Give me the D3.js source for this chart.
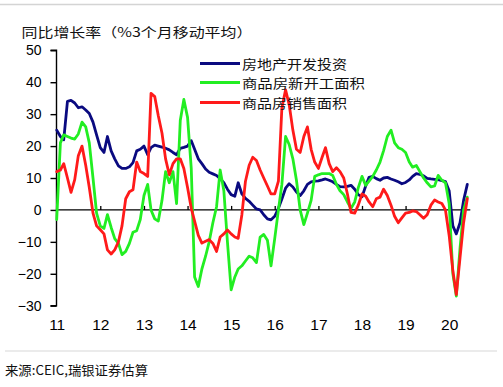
<!DOCTYPE html>
<html>
<head>
<meta charset="utf-8">
<script src="https://cdn.jsdelivr.net/npm/d3@7"></script>
<style>
  html, body { margin: 0; padding: 0; background: #fff; }
  svg { display: block; }
</style>
</head>
<body>
<svg id="chart" width="503" height="387"></svg>
<script>
// ---- data (monthly, Jan 2011 – Jun 2020, 3-month moving average, % yoy) ----
const startMonth = "2011-01";
const endMonth = "2020-06";
const seriesNames = ["房地产开发投资", "商品房新开工面积", "商品房销售面积"];
const seriesColors = ["#0a0a80", "#22ee22", "#ff1a1a"];

const investment = [
  25, 23, 22, 34, 34.3, 33.5, 32, 32.3, 31.3, 30.2, 27.5, 23.5,
  19.5, 18, 23, 18.5, 16, 13.8, 13, 13, 13.5, 14.8, 18.5, 19,
  20, 17.3, 19.5, 20.3, 20, 19.7, 19.3, 18.8, 18, 17.3, 19.3, 19.6,
  20, 21.7, 19, 16, 14.5, 12.8, 11.8, 11.3, 10.8, 9.8, 8.5, 6.5,
  4.8, 4.3, 8.5, 5, 3.6, 2.7, 1.5, 0.3, 0, -1.5, -2.8, -3.1,
  -2, 0.5, 3.4, 6.8, 8.2, 7.2, 5.6, 4.5, 6, 8, 8.8, 9,
  9.1, 9.4, 9.7, 9.3, 8.8, 8, 7.3, 7.2, 7.4, 7.7, 6.5, 4.8,
  4.1, 7.5, 10.2, 10.5, 9.8, 9.3, 10, 10.2, 9.7, 9.3, 8.8, 8.2,
  8.6, 9.4, 10.5, 11.4, 11.1, 10.7, 9.9, 9.7, 9.6, 9.5, 9.2, 8.9,
  6, -5, -7.5, -4, 3, 8
];
const newStarts = [
  -3, 21, 23.5, 23, 22.5, 22.2, 23.8, 27.5, 26, 21, 10, -1,
  -5, -5.8, -1.5, -5.5, -9, -10.5, -14, -13, -10.5, -7, -6.5, -3,
  4.5, 8, 0, -2.8, -3.5, 3, 12, 8.5, 12, 2, 28, 34.6,
  29, 13, -21, -24, -18.5, -14.5, -10, -4, 1, 12.5, 6, -10,
  -25, -21, -18.5, -17.5, -16, -14.5, -15, -16.5, -8.5, -7.7, -9.5, -17.5,
  -9, 0, 8, 23, 20.5, 16, 9.3, 0, -4.6, -1, 3, 10.5,
  11, 11.4, 11.4, 11.4, 10.8, 8, 6, 4.8, 2.5, 0.5, 2.5, 7,
  10.5, 7.7, 9, 10.5, 12.5, 15, 18.6, 23, 25, 21, 19.5, 19,
  18, 15, 13.4, 13.9, 12, 10, 8.5, 7.2, 7.5, 10.8, 9.3, 8.5,
  2, -20, -27, -12, 0, 4
];
const sales = [
  12, 12.5, 14.5, 10, 5.5, 9.5, 17, 20, 14, 7, -1, -5,
  -6.2, -7.5, -12.5, -13.8, -12.5, -10, -5, 3.5, 5.7, 6.3, 15, 12,
  11.4, 10.5, 36.5, 35.5, 29.5, 24, 16, 11, 14.5, 16, 16, 13,
  7, 0.5, -3.5, -8, -10.4, -9.8, -9.3, -10.5, -13, -8.5, -7.5, -6.3,
  -7.5, -8.5, -8.9, -1.5, 9, 14, 16.5, 15.5, 12.5, 10, 7.5, 5,
  5, 9, 32, 37.6, 33, 25, 19, 18, 23, 26, 19, 15,
  13, 16.5, 19.5, 14.5, 12, 13.2, 12, 10, 5, -0.8, -1, 1.5,
  5, 4.3, 2.5, 1, 3.5, 4, 6.5, 4.5, 1.5, -2, -4, -2.5,
  -1, -0.8, -0.3, -0.5, -1.5, -2.6, -1.5, 1.5, 3.1, 2.5, 2, 0,
  -8, -19, -26.5, -15, -4, 3.5
];
const yTicks = [-30, -20, -10, 0, 10, 20, 30, 40, 50];
const title = "同比增长率（%3个月移动平均）";
const source = "来源:CEIC,瑞银证券估算";

// ---- build ----
const parseM = d3.timeParse("%Y-%m");
const months = d3.timeMonth.range(parseM(startMonth), d3.timeMonth.offset(parseM(endMonth), 1));
const allSeries = [investment, newStarts, sales];

const svg = d3.select("#chart");
svg.append("rect").attr("width", 503).attr("height", 387).attr("fill", "#fff");

// frame lines
svg.append("line").attr("x1", 0).attr("x2", 503).attr("y1", 4.5).attr("y2", 4.5)
  .attr("stroke", "#d4d4d4").attr("stroke-width", 1.5);
svg.append("line").attr("x1", 5).attr("x2", 497).attr("y1", 351).attr("y2", 351)
  .attr("stroke", "#d8d8d8").attr("stroke-width", 1.2);

const x = d3.scaleTime().domain([months[0], months[months.length - 1]]).range([56.7, 467.3]);
const y = d3.scaleLinear().domain([-30, 50]).range([305.7, 50.3]);

const cjk = "'Noto Sans CJK SC', 'Noto Sans', sans-serif";
const latin = "'Liberation Sans', Arial, sans-serif";

// title
svg.append("text").attr("x", 21.5).attr("y", 36.5)
  .attr("font-family", cjk).attr("font-size", 13).attr("fill", "#111")
  .attr("textLength", 231).attr("lengthAdjust", "spacingAndGlyphs")
  .text(title);

// y axis
const yAxis = svg.append("g").attr("transform", "translate(56.5,0)")
  .call(d3.axisLeft(y).tickValues(yTicks).tickSize(6).tickPadding(9).tickFormat(d3.format("d")));
yAxis.selectAll("path, line").attr("stroke", "#000").attr("stroke-width", 1.4);
yAxis.selectAll("text").attr("font-family", latin).attr("font-size", 14).attr("fill", "#000");
yAxis.select(".domain").attr("d", `M-6,${y(50)}H0V${y(-30)}H-6`);

// x axis at zero (line + small upward ticks)
const xZero = svg.append("g").attr("transform", `translate(0,${y(0)})`)
  .call(d3.axisBottom(x).ticks(d3.timeYear.every(1)).tickSizeInner(-4).tickSizeOuter(0).tickFormat(""));
xZero.selectAll("path, line").attr("stroke", "#000").attr("stroke-width", 1.3);
xZero.select(".domain").attr("d", `M${x.range()[0]},0H${x.range()[1] + 3}`);

// x labels below plot
const xLab = svg.append("g").attr("transform", `translate(0,${y(-30)})`)
  .call(d3.axisBottom(x).ticks(d3.timeYear.every(1)).tickSize(0).tickPadding(13).tickFormat(d3.timeFormat("%y")));
xLab.select(".domain").remove();
xLab.selectAll("text").attr("font-family", latin).attr("font-size", 15.5).attr("fill", "#000");

// lines
const line = d3.line().x((d, i) => x(months[i])).y(d => y(d)).curve(d3.curveLinear);
allSeries.forEach((s, k) => {
  svg.append("path").datum(s).attr("d", line)
    .attr("fill", "none").attr("stroke", seriesColors[k])
    .attr("stroke-width", 2.8).attr("stroke-linejoin", "round").attr("stroke-linecap", "round");
});

// legend
const legY = [63.5, 82.5, 102.5];
const legW = [105, 123, 105];
seriesNames.forEach((name, k) => {
  svg.append("line").attr("x1", 200).attr("x2", 240).attr("y1", legY[k]).attr("y2", legY[k])
    .attr("stroke", seriesColors[k]).attr("stroke-width", 3);
  svg.append("text").attr("x", 242).attr("y", legY[k] + 5)
    .attr("font-family", cjk).attr("font-size", 13).attr("fill", "#111")
    .attr("textLength", legW[k]).attr("lengthAdjust", "spacingAndGlyphs")
    .text(name);
});

// source
svg.append("text").attr("x", 5).attr("y", 375)
  .attr("font-family", cjk).attr("font-size", 13).attr("fill", "#111")
  .attr("textLength", 143).attr("lengthAdjust", "spacingAndGlyphs")
  .text(source);
</script>
</body>
</html>
